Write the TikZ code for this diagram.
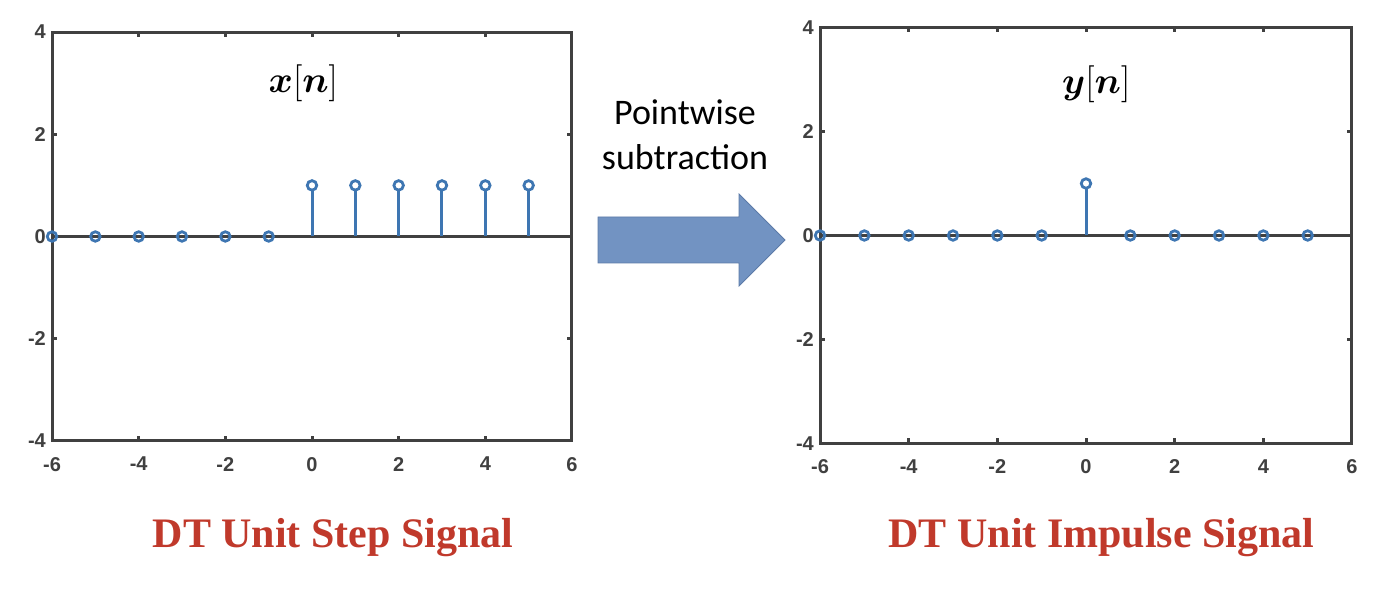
\RequirePackage{fix-cm}
\documentclass[tikz,border=0pt]{standalone}
\usepackage{amsmath,amssymb}
\usepackage{fontspec}
\usepackage{tikz}
\newfontfamily\ticksfont{Liberation Sans}
\newfontfamily\capfont{Liberation Serif}
\newfontfamily\notefont{Carlito}
\definecolor{axisgray}{RGB}{64,64,64}
\definecolor{stemblue}{RGB}{62,118,178}
\definecolor{arrowblue}{RGB}{114,147,194}
\definecolor{arrowedge}{RGB}{92,122,168}
\definecolor{capred}{RGB}{192,57,43}
\newcommand*\dotdiam{9.5pt}
\newcommand*\ticklen{5pt}
\tikzset{
    axisbox/.style   = {draw=axisgray, line width=3pt},
    tickmark/.style  = {draw=axisgray, line width=3pt},
    zeroline/.style  = {draw=axisgray, line width=3pt},
    stemline/.style  = {draw=stemblue, line width=3pt},
    stemdot/.style   = {draw=stemblue, line width=2.8pt, circle,
                        minimum size=\dotdiam, inner sep=0pt, outer sep=0pt},
    ticklabel/.style = {font=\ticksfont\bfseries\fontsize{20}{20}\selectfont,
                        text=axisgray, inner sep=0pt},
    sigtitle/.style  = {font=\fontsize{37}{37}\selectfont},
    caption/.style   = {font=\capfont\bfseries\fontsize{42}{42}\selectfont,
                        text=capred, anchor=base},
    opnote/.style    = {font=\notefont\fontsize{36}{45}\selectfont,
                        align=center, anchor=base},
    fatarrow/.style  = {fill=arrowblue, draw=arrowedge, line width=0.8pt},
  }

\begin{document}
\begin{tikzpicture}[x=1pt,y=1pt]
    \useasboundingbox (0,0) rectangle (1389,594);

    % Left axes: x[n], the unit step
    \begin{scope}[shift={(312,357.5)}, x=43.33pt, y=51.1pt]
        \draw[zeroline] (-6,0) -- (6,0);
        \draw[axisbox] (-6,-4) rectangle (6,4);
        % inward ticks on all four sides
        \foreach \t in {-4,-2,0,2,4} {
            \draw[tickmark] (\t,-4) -- ++(0,\ticklen);
            \draw[tickmark] (\t,4) -- ++(0,-\ticklen);
        }
        \foreach \t in {-2,0,2} {
            \draw[tickmark] (-6,\t) -- ++(\ticklen,0);
            \draw[tickmark] (6,\t) -- ++(-\ticklen,0);
        }
        % tick labels
        \foreach \t in {-6,-4,...,6}
            \node[ticklabel, anchor=north, yshift=-16pt] (lxt\t) at (\t,-4) {\t};
        \foreach \t in {-4,-2,...,4}
            \node[ticklabel, anchor=east, xshift=-6pt] (lyt\t) at (-6,\t) {\t};
        % samples: zero for n<0, one for n>=0
        \foreach \n in {-6,...,-1}
            \node[stemdot] (xd\n) at (\n,0) {};
        \foreach \n in {0,...,5} {
            \node[stemdot] (xd\n) at (\n,1) {};
            \draw[stemline] (\n,0) -- (xd\n);
        }
        \node[sigtitle] (xtitle) at (-0.2,3) {$\boldsymbol{x}[\boldsymbol{n}]$};
    \end{scope}

    % Right axes: y[n], the unit impulse
    \begin{scope}[shift={(1086,358.5)}, x=44.33pt, y=52pt]
        \draw[zeroline] (-6,0) -- (6,0);
        \draw[axisbox] (-6,-4) rectangle (6,4);
        % inward ticks on all four sides
        \foreach \t in {-4,-2,0,2,4} {
            \draw[tickmark] (\t,-4) -- ++(0,\ticklen);
            \draw[tickmark] (\t,4) -- ++(0,-\ticklen);
        }
        \foreach \t in {-2,0,2} {
            \draw[tickmark] (-6,\t) -- ++(\ticklen,0);
            \draw[tickmark] (6,\t) -- ++(-\ticklen,0);
        }
        % tick labels
        \foreach \t in {-6,-4,...,6}
            \node[ticklabel, anchor=north, yshift=-16pt] (rxt\t) at (\t,-4) {\t};
        \foreach \t in {-4,-2,...,4}
            \node[ticklabel, anchor=east, xshift=-6pt] (ryt\t) at (-6,\t) {\t};
        % samples: one only at n=0
        \foreach \n in {-6,...,-1,1,2,3,4,5}
            \node[stemdot] (yd\n) at (\n,0) {};
        \node[stemdot] (yd0) at (0,1) {};
        \draw[stemline] (0,0) -- (yd0);
        \node[sigtitle] (ytitle) at (0.23,2.9) {$\boldsymbol{y}[\boldsymbol{n}]$};
    \end{scope}

    % Block arrow between the two plots
    \coordinate (arrtail) at (598,354);
    \draw[fatarrow] (arrtail) ++(0,23) -- ++(141,0) -- ++(0,23) -- ++(46,-46)
        -- ++(-46,-46) -- ++(0,23) -- ++(-141,0) -- cycle;
    \node[opnote] (optext) at (685,424) {Pointwise\\subtraction};

    % Captions
    \node[caption] (xcap) at (333,46) {DT Unit Step Signal};
    \node[caption] (ycap) at (1101.5,46) {DT Unit Impulse Signal};
\end{tikzpicture}
\end{document}
